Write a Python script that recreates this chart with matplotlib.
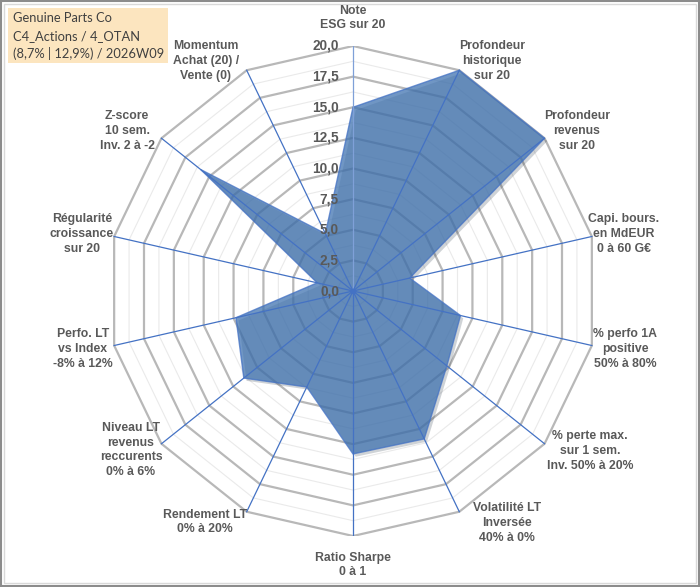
import numpy as np
import matplotlib.pyplot as plt
from matplotlib.patches import Rectangle, Polygon
import matplotlib.patheffects as pe

# criteria (clockwise from top) and scores out of 20
criteres = [
    "Note\nESG sur 20",
    "Profondeur\nhistorique\nsur 20",
    "Profondeur\nrevenus\nsur 20",
    "Capi. bours.\nen MdEUR\n0 à 60 G€",
    "% perfo 1A\npositive\n50% à 80%",
    "% perte max.\nsur 1 sem.\nInv. 50% à 20%",
    "Volatilité LT\nInversée\n40% à 0%",
    "Ratio Sharpe\n0 à 1",
    "Rendement LT\n0% à 20%",
    "Niveau LT\nrevenus\nreccurents\n0% à 6%",
    "Perfo. LT\nvs Index\n-8% à 12%",
    "Régularité\ncroissance\nsur 20",
    "Z-score\n10 sem.\nInv. 2 à -2",
    "Momentum\nAchat (20) /\nVente (0)",
]
notes = [15.0, 20.0, 20.0, 4.75, 9.0, 9.8, 13.4, 13.3, 8.7, 11.4, 9.8, 3.0, 15.9, 5.2]
ticks = [0.0, 2.5, 5.0, 7.5, 10.0, 12.5, 15.0, 17.5, 20.0]
titre = ["Genuine Parts Co", "C4_Actions / 4_OTAN", "(8,7% | 12,9%) / 2026W09"]

# label centres in pixels (layout only)
label_px = [(353, 18), (492, 61), (577, 131), (624, 234), (625, 349), (590, 451),
            (507, 523), (353, 565), (205, 522), (131, 450), (83, 349), (82, 234),
            (127, 131), (206, 61)]

W, H = 700, 587
GREY_TXT = "#595959"
BLUE = "#4472C4"

fig = plt.figure(figsize=(7, 5.87), dpi=100)
cx, cy, R = 353, 291, 245
ax = fig.add_axes([(cx - R) / W, (H - cy - R) / H, 2 * R / W, 2 * R / H])
ax.set_xlim(-20, 20)
ax.set_ylim(-20, 20)
ax.axis("off")

n = len(criteres)
ang = np.arange(n) * 2 * np.pi / n
ux, uy = np.sin(ang), np.cos(ang)

# minor and major rings
for r in np.arange(1.25, 20, 2.5):
    ax.add_patch(Polygon(np.c_[r * ux, r * uy], closed=True, fill=False,
                         ec="#EAEAEA", lw=0.8, zorder=1))
for r in ticks[1:]:
    ax.add_patch(Polygon(np.c_[r * ux, r * uy], closed=True, fill=False,
                         ec="#B8B8B8", lw=1.6, zorder=2))

# data polygon
v = np.array(notes)
poly = Polygon(np.c_[v * ux, v * uy], closed=True, fc="#4073B0", alpha=0.75,
               ec=BLUE, lw=1.0, zorder=3)
poly.set_path_effects([pe.SimplePatchShadow(offset=(2, -2), alpha=0.2), pe.Normal()])
ax.add_patch(poly)

# spokes
for i in range(n):
    ax.plot([0, 20 * ux[i]], [0, 20 * uy[i]], color="#7FA0D8" if i == 0 else BLUE,
            lw=0.9, zorder=4)
ax.plot([0], [0], "o", color=BLUE, ms=3, zorder=5)

# value axis labels
for t in ticks:
    ax.text(-1.15, t, f"{t:.1f}".replace(".", ","), ha="right", va="center",
            fontsize=9.8, fontweight="bold", color=GREY_TXT,
            family="Liberation Sans", zorder=6)

# category labels
for lab, (px, py) in zip(criteres, label_px):
    fig.text(px / W, 1 - py / H, lab, ha="center", va="center", ma="center",
             fontsize=8.8, fontweight="bold", color=GREY_TXT,
             family="Liberation Sans", linespacing=1.3)

# title box
fig.patches.append(Rectangle((8 / W, 1 - 63 / H), 160 / W, 55 / H,
                             transform=fig.transFigure, fc="#FCE5BF", ec="none"))
for k, line in enumerate(titre):
    fig.text(13 / W, 1 - (18 + 18 * k) / H, line, ha="left", va="center",
             fontsize=9.3, color="#404040", family="Lato")

# chart area borders
fig.patches.append(Rectangle((1 / W, 1 / H), 698 / W, 585 / H, transform=fig.transFigure,
                             fill=False, ec="#8C8C8C", lw=1.5))
fig.patches.append(Rectangle((4 / W, 4 / H), 692 / W, 579 / H, transform=fig.transFigure,
                             fill=False, ec="#D9D9D9", lw=1.0))

fig.savefig("out.png", dpi=100)
